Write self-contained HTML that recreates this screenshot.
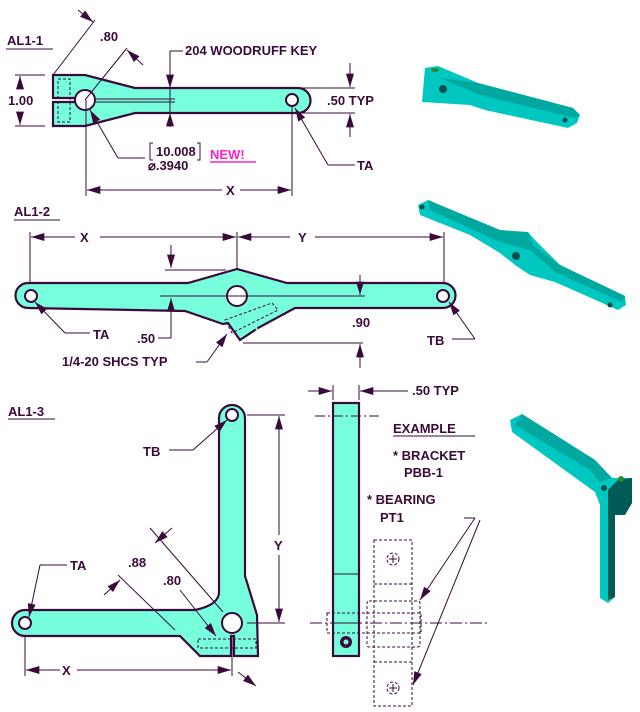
<!DOCTYPE html>
<html><head><meta charset="utf-8"><style>
body{margin:0;background:#fff}
svg{display:block}
text{font-family:"Liberation Sans",sans-serif;font-weight:bold;fill:#3a0a3a;font-size:13px}
.p{fill:#77ffdd;stroke:#3a0a3a;stroke-width:2.2}
.l{stroke:#3a0a3a;stroke-width:1;fill:none}
.d{stroke:#3a0a3a;stroke-width:1;fill:none;stroke-dasharray:3 2}
.a{fill:#3a0a3a}
.h{fill:#fff;stroke:#3a0a3a;stroke-width:2}
</style></head><body>
<svg width="640" height="712" viewBox="0 0 640 712">
<defs>
<marker id="ar" viewBox="0 0 10 6" refX="10" refY="3" markerWidth="15" markerHeight="8" orient="auto-start-reverse" markerUnits="userSpaceOnUse"><path d="M0,0L10,3L0,6z" class="a"/></marker>
</defs>

<!-- ===== AL1-1 ===== -->
<text x="7" y="45" font-size="15">AL1-1</text><line x1="6" y1="49" x2="53" y2="49" class="l" stroke-width="1.5"/>
<path class="p" d="M53,75 L85,75 L135,88 L298,88 A12.5,12.5 0 0 1 298,113 L135,113 L85,126 L53,126 L53,102 L75,102 L75,98 L53,98 Z"/>
<circle cx="85" cy="100" r="10" class="h"/>
<circle cx="292" cy="100" r="6" class="h"/>
<line x1="96" y1="99" x2="175" y2="99" class="l"/><line x1="96" y1="102" x2="175" y2="102" class="l"/>
<rect x="58" y="79" width="12" height="43" class="d" stroke="#999"/>
<line x1="15" y1="75" x2="45" y2="75" class="l"/><line x1="15" y1="126" x2="45" y2="126" class="l"/>
<line x1="20" y1="88" x2="20" y2="76" class="l" marker-end="url(#ar)"/><line x1="20" y1="112" x2="20" y2="125" class="l" marker-end="url(#ar)"/>
<text x="8" y="105">1.00</text>
<line x1="53" y1="75" x2="95" y2="20" class="l"/><line x1="85" y1="100" x2="127" y2="48" class="l"/>
<line x1="78" y1="10" x2="93" y2="22" class="l" marker-end="url(#ar)"/><line x1="143" y1="65" x2="127" y2="50" class="l" marker-end="url(#ar)"/>
<text x="100" y="41">.80</text>
<line x1="170" y1="127" x2="170" y2="51" class="l"/><line x1="170" y1="51" x2="183" y2="51" class="l"/>
<line x1="170" y1="78" x2="170" y2="88" class="l" marker-end="url(#ar)"/><line x1="170" y1="123" x2="170" y2="113" class="l" marker-end="url(#ar)"/>
<text x="185" y="55" font-size="11">204 WOODRUFF KEY</text>
<line x1="300" y1="88" x2="355" y2="88" class="l"/><line x1="300" y1="113" x2="355" y2="113" class="l"/>
<line x1="350" y1="63" x2="350" y2="87" class="l" marker-end="url(#ar)"/><line x1="350" y1="137" x2="350" y2="114" class="l" marker-end="url(#ar)"/>
<text x="327" y="105">.50 TYP</text>
<line x1="328" y1="165" x2="355" y2="165" class="l"/><line x1="328" y1="165" x2="295" y2="108" class="l" marker-end="url(#ar)"/>
<text x="357" y="170" font-size="14">TA</text>
<line x1="118" y1="158" x2="145" y2="158" class="l"/><line x1="118" y1="158" x2="90" y2="110" class="l" marker-end="url(#ar)"/>
<path d="M153,143 L150,143 L150,160 L153,160 M197,143 L200,143 L200,160 L197,160" class="l"/>
<text x="156" y="156" font-size="12">10.008</text>
<text x="148" y="170" font-size="12">⌀.3940</text>
<text x="210" y="159" font-size="15" style="fill:#ff22cc">NEW!</text><line x1="210" y1="162" x2="256" y2="162" stroke="#ff22cc" stroke-width="1.5"/>
<line x1="86" y1="100" x2="86" y2="196" class="l"/><line x1="292" y1="106" x2="292" y2="196" class="l"/>
<line x1="222" y1="190" x2="87" y2="190" class="l" marker-end="url(#ar)"/><line x1="240" y1="190" x2="291" y2="190" class="l" marker-end="url(#ar)"/>
<text x="226" y="195" font-size="14">X</text>

<!-- ===== AL1-2 ===== -->
<text x="14" y="216" font-size="15">AL1-2</text><line x1="14" y1="220" x2="60" y2="220" class="l" stroke-width="1.5"/>
<line x1="30" y1="232" x2="30" y2="290" class="l"/><line x1="237" y1="232" x2="237" y2="290" class="l"/><line x1="444" y1="232" x2="444" y2="290" class="l"/>
<line x1="75" y1="237" x2="31" y2="237" class="l" marker-end="url(#ar)"/><line x1="100" y1="237" x2="236" y2="237" class="l" marker-end="url(#ar)"/>
<line x1="290" y1="237" x2="238" y2="237" class="l" marker-end="url(#ar)"/><line x1="315" y1="237" x2="443" y2="237" class="l" marker-end="url(#ar)"/>
<text x="80" y="242" font-size="14">X</text><text x="298" y="242" font-size="14">Y</text>
<path class="p" d="M28,283 L188,283 L237,269 L287,283 L443,283 A12.5,12.5 0 0 1 443,308 L295,308 L258,328 L240,340 L228,323 L223,324 L185,311 L28,308 A12.5,12.5 0 0 1 28,283 Z"/>
<path d="M245,302 L257,330" class="l" stroke-width="5" stroke="#3a0a3a"/><path d="M245,302 L257,330" stroke="#77ffdd" stroke-width="2"/>
<circle cx="237" cy="296" r="10" class="h"/>
<circle cx="31" cy="296" r="6" class="h"/><circle cx="443" cy="296" r="6" class="h"/>
<path d="M225,320 L272,303 L278,310 L232,333 Z" class="d" stroke="#999"/>
<line x1="160" y1="296" x2="365" y2="296" class="l"/>
<line x1="165" y1="270" x2="226" y2="270" class="l"/>
<line x1="171" y1="245" x2="171" y2="268" class="l" marker-end="url(#ar)"/><line x1="171" y1="338" x2="171" y2="298" class="l" marker-end="url(#ar)"/>
<line x1="158" y1="338" x2="171" y2="338" class="l"/><text x="137" y="343">.50</text>
<line x1="360" y1="275" x2="360" y2="295" class="l" marker-end="url(#ar)"/>
<line x1="243" y1="343" x2="363" y2="343" class="l"/>
<line x1="360" y1="368" x2="360" y2="344" class="l" marker-end="url(#ar)"/>
<text x="352" y="327">.90</text>
<line x1="65" y1="333" x2="90" y2="333" class="l"/><line x1="65" y1="333" x2="35" y2="302" class="l" marker-end="url(#ar)"/>
<text x="93" y="339" font-size="14">TA</text>
<line x1="452" y1="339" x2="475" y2="339" class="l"/><line x1="475" y1="339" x2="449" y2="302" class="l" marker-end="url(#ar)"/>
<text x="427" y="345" font-size="14">TB</text>
<text x="62" y="366">1/4-20 SHCS TYP</text>
<line x1="196" y1="362" x2="207" y2="362" class="l"/><line x1="207" y1="362" x2="227" y2="334" class="l" marker-end="url(#ar)"/>

<!-- ===== AL1-3 ===== -->
<text x="8" y="416" font-size="15">AL1-3</text><line x1="8" y1="419" x2="55" y2="419" class="l" stroke-width="1.5"/>
<path class="p" d="M219,592 L219,418 A13,13 0 0 1 245,418 L245,576 L257,615 L258,656 L234,656 L234,636 L231,636 L231,656 L200,656 L180,636 L25,636 A13,13 0 0 1 25,610 L195,610 Q219,605 219,592 Z"/>
<circle cx="232" cy="623" r="10" class="h"/>
<circle cx="232" cy="415" r="6" class="h"/><circle cx="25" cy="623" r="6" class="h"/>
<rect x="198" y="639" width="58" height="9" class="d" stroke="#999"/>
<line x1="247" y1="415" x2="285" y2="415" class="l"/><line x1="247" y1="623" x2="285" y2="623" class="l"/>
<line x1="279" y1="535" x2="279" y2="416" class="l" marker-end="url(#ar)"/><line x1="279" y1="555" x2="279" y2="622" class="l" marker-end="url(#ar)"/>
<text x="274" y="550" font-size="14">Y</text>
<line x1="25" y1="637" x2="25" y2="676" class="l"/><line x1="232" y1="637" x2="232" y2="676" class="l"/>
<line x1="60" y1="670" x2="26" y2="670" class="l" marker-end="url(#ar)"/><line x1="77" y1="670" x2="231" y2="670" class="l" marker-end="url(#ar)"/>
<text x="62" y="675" font-size="14">X</text>
<line x1="150" y1="528" x2="223" y2="612" class="l"/><line x1="118" y1="575" x2="175" y2="630" class="l"/>
<line x1="172" y1="528" x2="155" y2="543" class="l" marker-end="url(#ar)"/>
<line x1="104" y1="595" x2="120" y2="580" class="l" marker-end="url(#ar)"/>
<line x1="238" y1="672" x2="256" y2="686" class="l" marker-end="url(#ar)"/>
<text x="128" y="567" font-size="12">.88</text><text x="163" y="585" font-size="12">.80</text>
<line x1="180" y1="590" x2="216" y2="636" class="l" marker-end="url(#ar)"/>
<line x1="40" y1="565" x2="67" y2="565" class="l"/><line x1="40" y1="565" x2="29" y2="617" class="l" marker-end="url(#ar)"/>
<text x="70" y="570" font-size="14">TA</text>
<line x1="169" y1="450" x2="193" y2="450" class="l"/><line x1="193" y1="450" x2="227" y2="420" class="l" marker-end="url(#ar)"/>
<text x="143" y="456" font-size="14">TB</text>

<rect x="333" y="403" width="26" height="253" class="p"/>
<line x1="333" y1="574" x2="359" y2="574" class="l" stroke-width="2"/><line x1="333" y1="623" x2="359" y2="623" class="l" stroke-width="2"/>
<circle cx="346" cy="642" r="6" fill="#3a0a3a"/><circle cx="346" cy="642" r="2.5" fill="#77ffdd"/>
<line x1="308" y1="391" x2="332" y2="391" class="l" marker-end="url(#ar)"/><line x1="408" y1="391" x2="360" y2="391" class="l" marker-end="url(#ar)"/>
<line x1="333" y1="385" x2="333" y2="400" class="l"/><line x1="359" y1="385" x2="359" y2="400" class="l"/>
<text x="412" y="395" font-size="11">.50 TYP</text>
<line x1="315" y1="416" x2="380" y2="416" class="l" stroke-dasharray="10 3 2 3"/>
<line x1="310" y1="623" x2="490" y2="623" class="l" stroke-dasharray="12 3 2 3"/>
<text x="393" y="433" font-size="15">EXAMPLE</text><line x1="393" y1="436" x2="475" y2="436" class="l" stroke-width="1.5"/>
<text x="393" y="460" font-size="15">*  BRACKET</text><text x="404" y="477" font-size="15">PBB-1</text>
<text x="367" y="504" font-size="15">*  BEARING</text><text x="380" y="522" font-size="15">PT1</text>
<rect x="374" y="540" width="38" height="166" class="d"/>
<line x1="374" y1="584" x2="412" y2="584" class="d"/><line x1="374" y1="662" x2="412" y2="662" class="d"/>
<circle cx="393" cy="559" r="6" class="d"/><path d="M389,559h8M393,555v8" class="l"/>
<circle cx="393" cy="688" r="6" class="d"/><path d="M389,688h8M393,684v8" class="l"/>
<rect x="367" y="601" width="53" height="46" rx="2" class="d"/>
<rect x="327" y="613" width="94" height="20" class="d"/>
<line x1="464" y1="518" x2="475" y2="518" class="l"/>
<line x1="475" y1="518" x2="420" y2="600" class="l" marker-end="url(#ar)"/>
<line x1="480" y1="520" x2="413" y2="685" class="l" marker-end="url(#ar)"/>

<g stroke="none">
<path d="M425,68 L438,66 L478,83 L573,108 L580,115 L577,123 L568,128 L485,110 L470,105 L422,102 Z" fill="#00c8c0"/>
<path d="M478,83 L573,108 L580,115 L575,118 L480,95 L440,78 Z" fill="#00a8a0"/>
<circle cx="443" cy="89" r="4" fill="#005050"/><circle cx="565" cy="120" r="2.5" fill="#005050"/>
<ellipse cx="435" cy="70" rx="4" ry="2" fill="#2a8a2a"/>
<path d="M418,205 L428,200 L500,232 L528,232 L535,240 L560,265 L625,296 L626,305 L618,310 L555,282 L530,275 L515,265 L500,253 L470,235 L420,215 Z" fill="#00c8c0"/>
<path d="M428,200 L500,230 L528,232 L533,245 L560,265 L625,296 L622,302 L555,272 L530,250 L500,242 L430,210 Z" fill="#00a8a0"/>
<circle cx="422" cy="207" r="2.5" fill="#005050"/><circle cx="516" cy="256" r="4" fill="#005050"/><circle cx="610" cy="305" r="2.5" fill="#005050"/>
<path d="M510,420 L522,414 L595,460 L612,478 L632,478 L632,503 L625,515 L615,515 L615,597 L608,603 L600,598 L600,505 L595,492 L512,432 Z" fill="#00c8c0"/>
<path d="M618,480 L632,478 L632,503 L625,515 L615,515 L615,597 L608,600 L608,490 Z" fill="#005a55"/>
<path d="M522,414 L595,460 L612,478 L600,482 L590,470 L515,425 Z" fill="#00a8a0"/>
<circle cx="621" cy="479" r="3" fill="#2a8a2a"/><circle cx="604" cy="488" r="3" fill="#005050"/>
</g>
</svg>
</body></html>
